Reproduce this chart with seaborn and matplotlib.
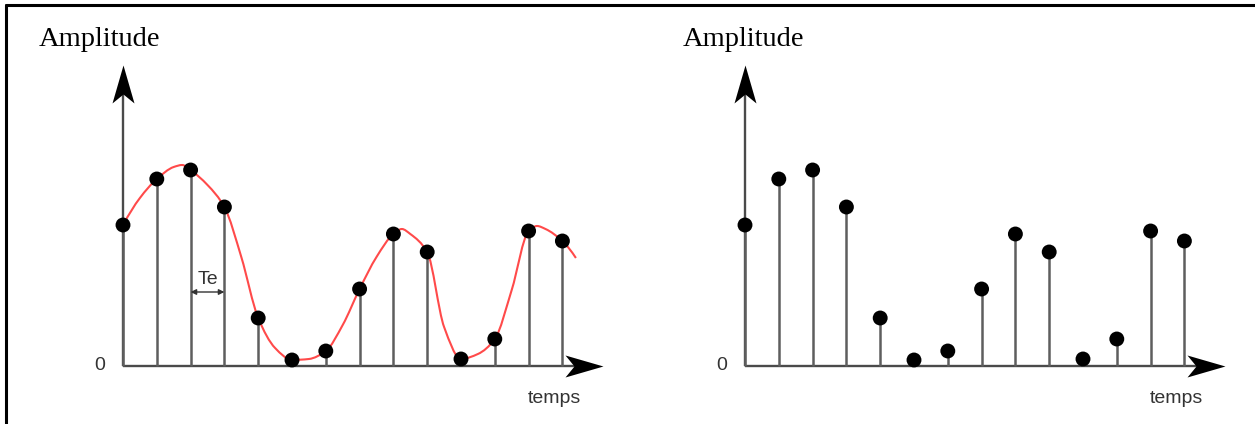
import numpy as np
import pandas as pd
import matplotlib
matplotlib.use("Agg")
import matplotlib.pyplot as plt
from matplotlib.path import Path
from matplotlib.patches import PathPatch
from matplotlib.lines import Line2D
import seaborn as sns

# Sampled signal: sample index and amplitude (arbitrary units)
sample_index = list(range(14))
sample_amplitude = [141, 187, 196, 159, 48, 6, 15, 77, 132, 114, 7, 27, 135, 125]

# Continuous analog signal
signal_time = [0, 0.5, 1, 1.5, 1.75, 2, 2.5, 3, 3.5, 4, 4.5, 5, 5.5, 6, 6.5, 7, 7.5,
               8, 8.25, 8.5, 9, 9.5, 10, 10.5, 11, 11.5, 12, 12.25, 12.5, 13, 13.4]
signal_amplitude = [141, 168, 187, 199, 201, 196, 181, 159, 109, 48, 18, 6, 7, 15, 41,
                    77, 109, 132, 137, 132, 114, 39, 7, 12, 27, 76, 135, 140, 137, 125, 108]

axis_label_y = "Amplitude"
axis_label_x = "temps"
zero_label = "0"
period_label = "Te"

W, H = 1255, 424
DPI = 100

sns.set_theme(style="white")
plt.rcParams["font.family"] = ["Liberation Sans", "DejaVu Sans"]

fig = plt.figure(figsize=(W / DPI, H / DPI), dpi=DPI)
fig.patch.set_facecolor("white")

# pixel geometry of one panel: sample spacing, baseline row
DX = 33.8
BASE = 366
Y_TIP = 301       # top of the amplitude axis arrow (amplitude units)
X_TIP = 14.2      # end of the time axis arrow (sample units)


def arrow_marker(angle_deg):
    # notched arrowhead, tip at the origin, pointing along +x before rotation
    verts = np.array([(0, 0), (-38, 11), (-29, 0), (-38, -11), (0, 0)], float)
    a = np.deg2rad(angle_deg)
    rot = np.array([[np.cos(a), -np.sin(a)], [np.sin(a), np.cos(a)]])
    verts = verts @ rot.T
    codes = [Path.MOVETO, Path.LINETO, Path.LINETO, Path.LINETO, Path.CLOSEPOLY]
    return Path(verts, codes)


def pchip_slopes(x, y):
    # shape-preserving (Fritsch-Carlson) tangents
    h = np.diff(x)
    delta = np.diff(y) / h
    n = len(x)
    d = np.zeros(n)
    for k in range(1, n - 1):
        if delta[k - 1] * delta[k] > 0:
            w1 = 2 * h[k] + h[k - 1]
            w2 = h[k] + 2 * h[k - 1]
            d[k] = (w1 + w2) / (w1 / delta[k - 1] + w2 / delta[k])

    def end_slope(h0, h1, d0, d1):
        s = ((2 * h0 + h1) * d0 - h0 * d1) / (h0 + h1)
        if np.sign(s) != np.sign(d0):
            s = 0.0
        elif np.sign(d0) != np.sign(d1) and abs(s) > abs(3 * d0):
            s = 3 * d0
        return s

    d[0] = end_slope(h[0], h[1], delta[0], delta[1])
    d[-1] = end_slope(h[-1], h[-2], delta[-1], delta[-2])
    return d


def smooth_path(xs, ys):
    # Hermite segments written as cubic Bezier curves
    x = np.asarray(xs, float)
    y = np.asarray(ys, float)
    d = pchip_slopes(x, y)
    verts = [(x[0], y[0])]
    codes = [Path.MOVETO]
    for i in range(len(x) - 1):
        hi = x[i + 1] - x[i]
        verts += [(x[i] + hi / 3, y[i] + d[i] * hi / 3),
                  (x[i + 1] - hi / 3, y[i + 1] - d[i + 1] * hi / 3),
                  (x[i + 1], y[i + 1])]
        codes += [Path.CURVE4] * 3
    return Path(np.array(verts), codes)


def make_axes(origin_px):
    L, R, T, B = origin_px - 103, origin_px + 497, 40, 418
    ax = fig.add_axes([L / W, 1 - B / H, (R - L) / W, (B - T) / H])
    ax.set_xlim((L - origin_px) / DX, (R - origin_px) / DX)
    ax.set_ylim(BASE - B, BASE - T)
    ax.set_axis_off()
    return ax


def draw_axes_frame(ax, title_offset_px):
    axis_col = "#4a4a4a"
    ax.plot([0, 0], [0, Y_TIP - 20], color=axis_col, lw=1.7, solid_capstyle="butt", zorder=2)
    ax.plot([0, X_TIP - 0.6], [0, 0], color=axis_col, lw=1.7, solid_capstyle="butt", zorder=2)
    ax.plot([0], [Y_TIP], marker=arrow_marker(90), markersize=54.7, color="black",
            markeredgewidth=0, linestyle="none", clip_on=False, zorder=4)
    ax.plot([X_TIP], [0], marker=arrow_marker(0), markersize=54.7, color="black",
            markeredgewidth=0, linestyle="none", clip_on=False, zorder=4)
    ax.text(-23 / DX, 0, zero_label, ha="center", va="center", fontsize=14,
            color="#333333", clip_on=False)
    ax.text(431 / DX, BASE - 403, axis_label_x, ha="center", va="baseline",
            fontsize=14, color="#333333", clip_on=False)
    ax.text(title_offset_px / DX, BASE - 46, axis_label_y, ha="left", va="baseline",
            fontsize=20.5, color="black", family=["Liberation Serif", "DejaVu Serif"],
            clip_on=False)


def draw_samples(ax):
    df = pd.DataFrame({"t": sample_index, "a": sample_amplitude})
    ax.vlines(df["t"], 0, df["a"], color="#5e5e5e", lw=1.8, zorder=3)
    sns.scatterplot(data=df, x="t", y="a", ax=ax, color="black", s=115,
                    edgecolor="none", zorder=5, legend=False)
    ax.set_axis_off()


# left panel: analog signal with its samples
ax1 = make_axes(123)
draw_axes_frame(ax1, -84)
curve = PathPatch(smooth_path(signal_time, signal_amplitude), facecolor="none",
                  edgecolor="#ff4a4a", lw=1.5, zorder=4)
ax1.add_patch(curve)
draw_samples(ax1)
ax1.annotate("", xy=(2, BASE - 292), xytext=(3, BASE - 292),
             arrowprops=dict(arrowstyle="<|-|>", color="#333333", lw=1.0,
                             mutation_scale=8, shrinkA=0, shrinkB=0))
ax1.text(2.5, BASE - 284, period_label, ha="center", va="baseline", fontsize=14,
         color="#333333")

# right panel: samples alone
ax2 = make_axes(745)
draw_axes_frame(ax2, -62)
draw_samples(ax2)

# border along the top and left edges
fig.add_artist(Line2D([6 / W, 1], [1 - 5 / H, 1 - 5 / H], color="black", lw=2.2,
                      transform=fig.transFigure))
fig.add_artist(Line2D([6 / W, 6 / W], [0, 1 - 5 / H], color="black", lw=2.2,
                      transform=fig.transFigure))

fig.savefig("out.png", dpi=DPI, facecolor="white")
